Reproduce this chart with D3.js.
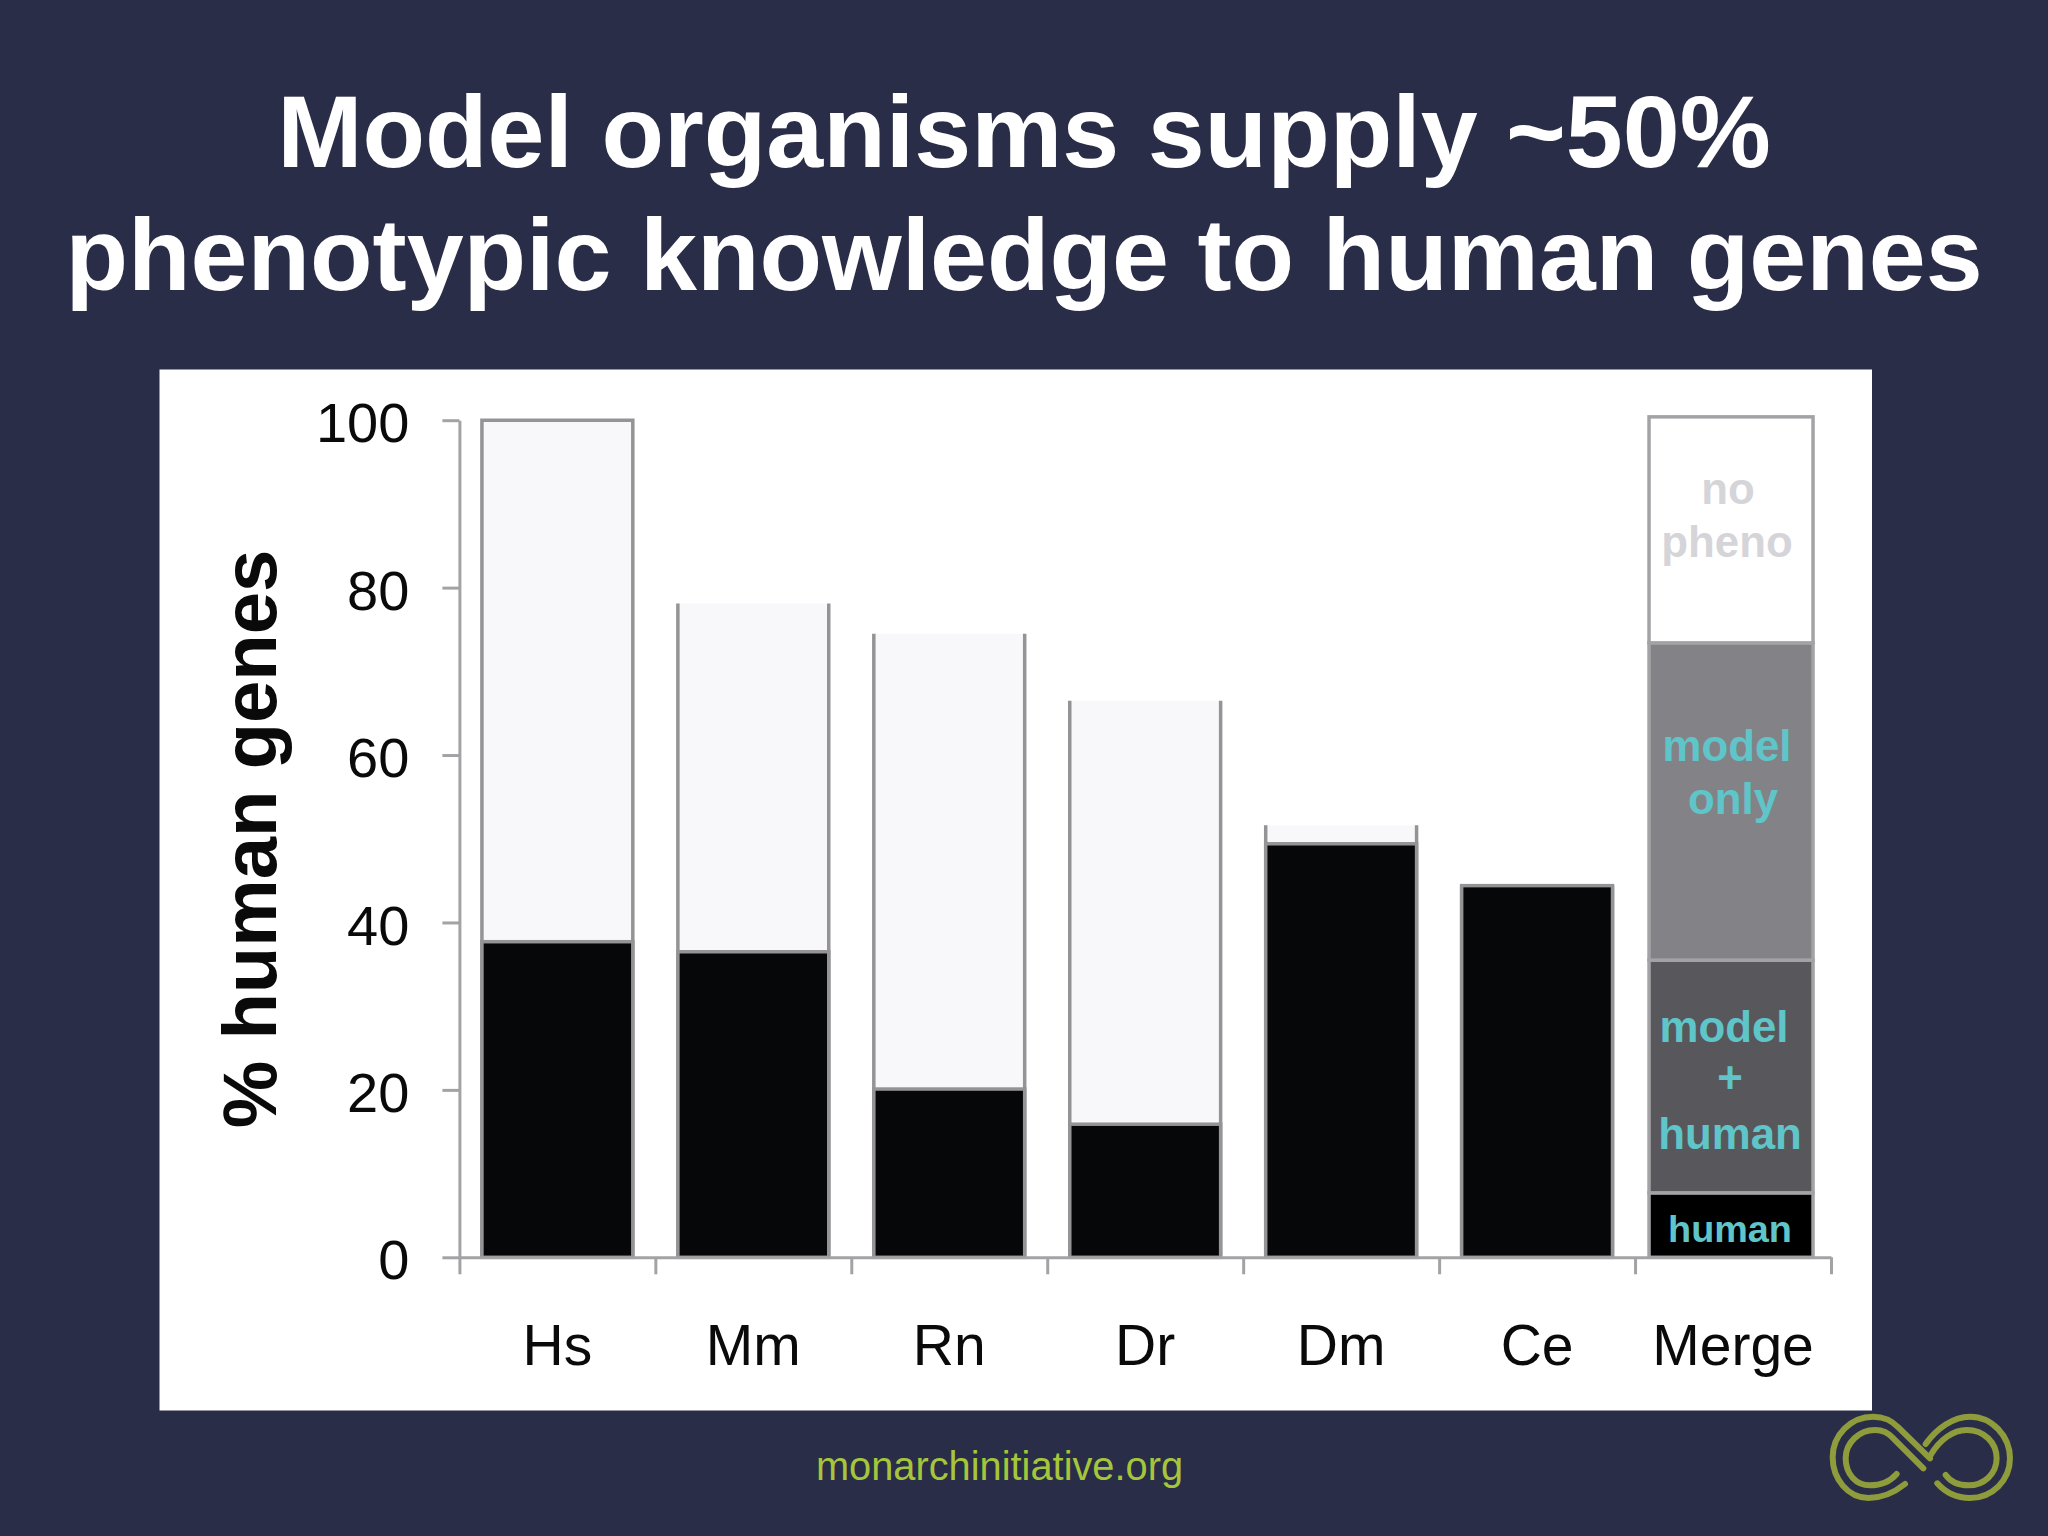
<!DOCTYPE html>
<html lang="en">
<head>
    <meta charset="UTF-8">
    <title>Model organisms supply ~50% phenotypic knowledge to human genes</title>
    <style>
        html, body{
            margin: 0;
            background: #2a2d47;
        }
        svg{
            display: block;
        }
        text{
            font-family: "Liberation Sans", Arial, sans-serif;
        }
    </style>
    <script src="https://cdn.jsdelivr.net/npm/d3@7/dist/d3.min.js"></script>
</head>
<body>
    <svg id="chart" width="2048" height="1536"></svg>
    <script>
        // values
        const titleLines = ["Model organisms supply ~50%", "phenotypic knowledge to human genes"];
        const yLabel = "% human genes";
        const footer = "monarchinitiative.org";
        const organisms = ["Hs", "Mm", "Rn", "Dr", "Dm", "Ce"];
        const humanKnown = [37.7, 36.5, 20.1, 15.9, 49.4, 44.4];
        const barTotal = [100, 78.1, 74.5, 66.5, 51.6, 44.4];
        const mergeName = "Merge";
        const mergeKeys = ["human", "modelHuman", "modelOnly", "noPheno"];
        const mergeValues = [7.7, 27.8, 37.9, 27.0];
        const yTicks = [0, 20, 40, 60, 80, 100];
        const xEdges = [0, 1, 2, 3, 4, 5, 6, 7];
        const mergeText = ["no", "pheno", "model", "only", "model", "+", "human", "human"];

        const axisGrey = "#a3a3a6";
        const barEdge = "#949497";
        const teal = "#5fc5c9";
        const mergeFill = {human: "#000000", modelHuman: "#58585c", modelOnly: "#838387", noPheno: "#ffffff"};

        const svg = d3.select("#chart");

        svg.append("rect").attr("width", 2048).attr("height", 1536).attr("fill", "#2a2d47");

        // title
        svg.selectAll(".title")
            .data(titleLines)
            .enter()
            .append("text")
            .attr("class", "title")
            .attr("x", 1024)
            .attr("y", (d, i) => [167, 289.5][i])
            .attr("text-anchor", "middle")
            .attr("font-size", 102.4)
            .attr("font-weight", "bold")
            .attr("fill", "#ffffff")
            .text(d => d);

        // white panel behind the chart
        svg.append("rect")
            .attr("x", 159.5)
            .attr("y", 369.5)
            .attr("width", 1712.5)
            .attr("height", 1041)
            .attr("fill", "#ffffff");

        // scales
        const y = d3.scaleLinear().domain([0, 100]).range([1257.3, 420.2]);
        const edge = d3.scaleLinear().domain([0, 7]).range([459.4, 1831]);
        const x = d3.scaleBand()
            .domain(organisms.concat([mergeName]))
            .range([459.4, 1831])
            .paddingInner(0.23)
            .paddingOuter(0.115);

        // bars for single organisms: light total behind, black part on top
        const barData = organisms.map((name, i) => ({name: name, human: humanKnown[i], total: barTotal[i]}));

        svg.selectAll(".total")
            .data(barData)
            .enter()
            .append("rect")
            .attr("class", "total")
            .attr("x", d => x(d.name))
            .attr("width", x.bandwidth())
            .attr("y", d => y(d.total))
            .attr("height", d => y(0) - y(d.total))
            .attr("fill", "#f8f8fa");

        // the light bars only have side edges, the full one is closed on top
        svg.selectAll(".total-edge")
            .data(barData)
            .enter()
            .append("path")
            .attr("class", "total-edge")
            .attr("d", d => {
                const p = d3.path();
                p.moveTo(x(d.name), y(0));
                p.lineTo(x(d.name), y(d.total));
                if (d.total === 100) p.lineTo(x(d.name) + x.bandwidth(), y(d.total));
                else p.moveTo(x(d.name) + x.bandwidth(), y(d.total));
                p.lineTo(x(d.name) + x.bandwidth(), y(0));
                return p.toString();
            })
            .attr("fill", "none")
            .attr("stroke", barEdge)
            .attr("stroke-width", 3.5);

        svg.selectAll(".known")
            .data(barData)
            .enter()
            .append("rect")
            .attr("class", "known")
            .attr("x", d => x(d.name))
            .attr("width", x.bandwidth())
            .attr("y", d => y(d.human))
            .attr("height", d => y(0) - y(d.human))
            .attr("fill", "#060709")
            .attr("stroke", barEdge)
            .attr("stroke-width", 3.5);

        // merge bar is a little wider than the others
        const mergeRow = {};
        mergeKeys.forEach((k, i) => { mergeRow[k] = mergeValues[i]; });
        const mergeStack = d3.stack().keys(mergeKeys)([mergeRow]);
        const mergeWidth = 164;
        const mergeLeft = x(mergeName) + x.bandwidth() / 2 - mergeWidth / 2 - 2;

        svg.selectAll(".merge")
            .data(mergeStack)
            .enter()
            .append("rect")
            .attr("class", "merge")
            .attr("x", mergeLeft)
            .attr("width", mergeWidth)
            .attr("y", d => y(d[0][1]))
            .attr("height", d => y(d[0][0]) - y(d[0][1]))
            .attr("fill", d => mergeFill[d.key])
            .attr("stroke", axisGrey)
            .attr("stroke-width", 3.5);

        // labels inside merge bar
        const mergeTextX = [1728, 1727, 1727, 1733, 1724, 1730, 1730, 1730];
        const mergeTextY = [504, 557, 761, 814, 1042, 1093, 1149, 1242];
        const mergeTextColor = ["#d5d5d9", "#d5d5d9", teal, teal, teal, teal, teal, teal];
        const mergeTextSize = [43.8, 43.8, 43.8, 43.8, 43.8, 43.8, 43.8, 37.8];

        svg.selectAll(".merge-label")
            .data(mergeText)
            .enter()
            .append("text")
            .attr("class", "merge-label")
            .attr("x", (d, i) => mergeTextX[i])
            .attr("y", (d, i) => mergeTextY[i])
            .attr("text-anchor", "middle")
            .attr("font-size", (d, i) => mergeTextSize[i])
            .attr("font-weight", "bold")
            .attr("fill", (d, i) => mergeTextColor[i])
            .text(d => d);

        // y axis
        const yAxis = svg.append("g")
            .attr("transform", "translate(459.4,0)")
            .call(d3.axisLeft(y).tickValues(yTicks).tickSize(17).tickSizeOuter(0).tickPadding(33));
        yAxis.selectAll("text").attr("font-size", 56).attr("fill", "#0a0a0a").attr("dy", "0.385em").style("font-family", "'Liberation Sans'");

        // x axis: ticks sit on the band edges, labels in the middle of bands
        const xTicks = svg.append("g")
            .attr("transform", "translate(0,1257.3)")
            .call(d3.axisBottom(edge).tickValues(xEdges).tickSize(17).tickSizeOuter(0).tickFormat(""));
        const xLabels = svg.append("g")
            .attr("transform", "translate(0,1257.3)")
            .call(d3.axisBottom(x).tickSize(0).tickPadding(67));
        xLabels.select(".domain").remove();
        xLabels.selectAll("text").attr("font-size", 57).attr("fill", "#0a0a0a").style("font-family", "'Liberation Sans'");

        [yAxis, xTicks].forEach(a => {
            a.selectAll(".domain, line").attr("stroke", axisGrey).attr("stroke-width", 3);
        });

        // y label
        svg.append("text")
            .attr("transform", "translate(276,839) rotate(-90)")
            .attr("text-anchor", "middle")
            .attr("font-size", 76)
            .attr("font-weight", "bold")
            .attr("fill", "#0a0a0a")
            .text(yLabel);

        // footer and logo
        svg.append("text")
            .attr("x", 999.5)
            .attr("y", 1480)
            .attr("text-anchor", "middle")
            .attr("font-size", 39.8)
            .attr("fill", "#a5c63a")
            .text(footer);

        const logo = svg.append("g")
            .attr("transform", "translate(1780,1380) scale(0.3333)")
            .attr("fill", "none")
            .attr("stroke", "#8f9c3c")
            .attr("stroke-width", 18)
            .attr("stroke-linecap", "round");
        [
            "M375,312 C340,340 300,354 265,354 C205,354 158,298 158,232 C158,165 212,110 280,110 C315,110 335,122 355,142 L450,235",
            "M437,192 C470,145 520,110 570,110 C636,110 690,168 690,235 C690,302 636,354 570,354 C530,354 495,336 472,310",
            "M350,282 C330,305 300,316 270,316 C228,316 197,282 197,235 C197,188 238,150 285,150 C310,150 325,158 340,175 L430,265",
            "M452,225 C480,178 520,150 560,150 C612,150 650,188 650,235 C650,282 612,316 565,316 C535,316 510,303 497,285"
        ].forEach(d => logo.append("path").attr("d", d));
    </script>
</body>
</html>
